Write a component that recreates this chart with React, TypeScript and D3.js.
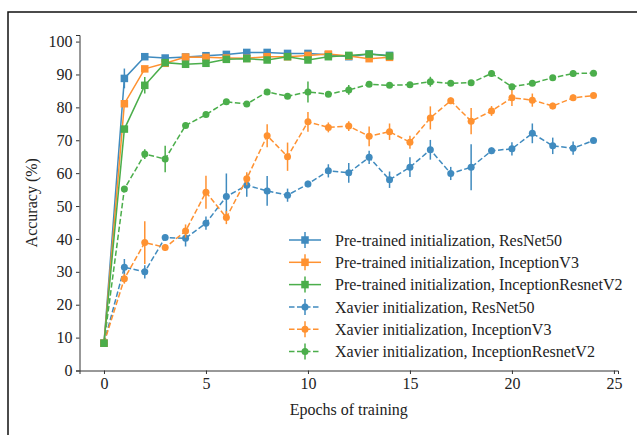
import React, { useRef, useEffect } from "react";
import { select, scaleLinear, axisLeft, axisBottom, line, range } from "d3";

// epochs
const preEpochs = range(0, 15);
const xavEpochs = range(0, 25);

// pre-trained initialization (solid, square markers)
const preResNet = [8.3, 88.8, 95.4, 95.0, 95.3, 95.7, 96.1, 96.7, 96.7, 96.4, 96.4, 96.0, 95.4, 96.2, 95.8];
const preResNetErr = [0.3, 3, 0.6, 0.4, 0.4, 0.4, 0.4, 0.5, 0.5, 0.4, 0.4, 0.4, 0.6, 0.4, 0.4];
const preIncV3 = [8.3, 81.1, 91.7, 93.4, 95.3, 95.2, 95.0, 94.9, 95.4, 95.4, 95.8, 96.2, 95.6, 94.8, 95.2];
const preIncV3Err = [0.3, 0.8, 0.6, 0.5, 0.4, 0.4, 0.4, 0.4, 0.4, 0.4, 0.4, 0.4, 0.4, 0.5, 0.4];
const preIncRes = [8.3, 73.4, 86.7, 93.6, 93.1, 93.4, 94.6, 94.8, 94.4, 95.4, 94.4, 95.4, 95.8, 96.2, 95.6];
const preIncResErr = [0.3, 0.8, 2.5, 0.5, 0.5, 0.5, 0.4, 0.4, 0.6, 0.4, 0.6, 0.4, 0.4, 0.4, 0.4];

// xavier initialization (dashed, circle markers)
const xavResNet = [8.3, 31.4, 30.0, 40.4, 40.2, 44.8, 52.9, 56.3, 54.6, 53.3, 56.7, 60.7, 60.1, 64.8, 58.0, 61.8, 67.1, 59.9, 61.8, 66.8, 67.4, 72.1, 68.3, 67.6, 69.9];
const xavResNetErr = [0.3, 2.5, 2, 0.8, 2.5, 2, 7, 3.5, 4.5, 2, 1, 2, 3, 2, 2.5, 3, 3, 2, 7, 1, 2, 3, 2.5, 2, 0.8];
const xavIncV3 = [8.3, 27.9, 38.9, 37.4, 42.4, 54.2, 46.5, 58.3, 71.4, 65.0, 75.6, 73.9, 74.3, 71.2, 72.6, 69.4, 76.8, 82.0, 75.8, 78.9, 82.9, 82.2, 80.4, 82.9, 83.6];
const xavIncV3Err = [0.3, 1.5, 6.5, 1, 2, 5, 2, 2, 3.5, 4.3, 3, 1.5, 1.5, 3, 2.5, 2, 3.5, 1, 4, 1.5, 2.5, 2, 1, 1, 0.8];
const xavIncRes = [8.3, 55.2, 65.8, 64.3, 74.5, 77.8, 81.7, 81.0, 84.7, 83.4, 84.7, 84.0, 85.3, 87.0, 86.7, 86.9, 87.8, 87.3, 87.5, 90.3, 86.3, 87.3, 89.0, 90.3, 90.4];
const xavIncResErr = [0.3, 0.8, 1.5, 4, 0.6, 0.8, 0.6, 0.6, 0.8, 0.6, 3.2, 0.6, 1.5, 0.6, 0.6, 0.6, 1.5, 0.6, 0.6, 1, 0.6, 0.8, 0.6, 1, 0.6];

const blue = "#1f77b4";
const orange = "#ff7f0e";
const green = "#2ca02c";

const series = [
  { label: "Pre-trained initialization, ResNet50", x: preEpochs, y: preResNet, err: preResNetErr, color: blue, dashed: false },
  { label: "Pre-trained initialization, InceptionV3", x: preEpochs, y: preIncV3, err: preIncV3Err, color: orange, dashed: false },
  { label: "Pre-trained initialization, InceptionResnetV2", x: preEpochs, y: preIncRes, err: preIncResErr, color: green, dashed: false },
  { label: "Xavier initialization, ResNet50", x: xavEpochs, y: xavResNet, err: xavResNetErr, color: blue, dashed: true },
  { label: "Xavier initialization, InceptionV3", x: xavEpochs, y: xavIncV3, err: xavIncV3Err, color: orange, dashed: true },
  { label: "Xavier initialization, InceptionResnetV2", x: xavEpochs, y: xavIncRes, err: xavIncResErr, color: green, dashed: true },
];

const xTicks = [0, 5, 10, 15, 20, 25];
const yTicks = [0, 10, 20, 30, 40, 50, 60, 70, 80, 90, 100];

const W = 637;
const H = 435;
const font = "Liberation Serif, Times New Roman, Times, DejaVu Serif, serif";

function App() {
  const svgRef = useRef<SVGSVGElement>(null);

  useEffect(() => {
    const svg = select(svgRef.current);
    svg.selectAll("*").remove();

    const xScale = scaleLinear().domain([-1.2, 25.2]).range([79.5, 618]);
    const yScale = scaleLinear().domain([0, 102]).range([370.5, 35]);

    // outer frame (cropped figure border)
    svg.append("path")
      .attr("d", `M8,${H} L8,12 L${W},12`)
      .attr("fill", "none")
      .attr("stroke", "#111")
      .attr("stroke-width", 1.5);

    // axes
    const xAxis = axisBottom(xScale).tickValues(xTicks).tickSizeOuter(0).tickSize(3.5).tickPadding(3.5);
    const gx = svg.append("g").attr("transform", `translate(0,${yScale(0)})`).call(xAxis);
    const yAxis = axisLeft(yScale).tickValues(yTicks).tickSizeOuter(0).tickSize(3.5).tickPadding(3.5);
    const gy = svg.append("g").attr("transform", `translate(${xScale(-1.2)},0)`).call(yAxis);
    [gx, gy].forEach((g) => {
      g.attr("font-family", null).attr("font-size", null);
      g.selectAll("text").style("font-family", font).style("font-size", "16px").attr("fill", "#222");
      g.selectAll("line").attr("stroke", "#333");
      g.select(".domain").attr("stroke", "#333").attr("stroke-width", 1);
    });

    // axis labels
    svg.append("text")
      .attr("x", (xScale(-1.2) + xScale(25.2)) / 2)
      .attr("y", 415)
      .attr("text-anchor", "middle")
      .style("font-family", font)
      .style("font-size", "16px")
      .attr("fill", "#222")
      .text("Epochs of training");
    svg.append("text")
      .attr("transform", `translate(37,${yScale(51)}) rotate(-90)`)
      .attr("text-anchor", "middle")
      .style("font-family", font)
      .style("font-size", "16px")
      .attr("fill", "#222")
      .text("Accuracy (%)");

    const plot = svg.append("g").attr("opacity", 0.85);

    const drawMarker = (g: any, cx: number, cy: number, s: any, size: number) => {
      if (s.dashed) {
        g.append("circle").attr("cx", cx).attr("cy", cy).attr("r", size / 2).attr("fill", s.color);
      } else {
        g.append("rect")
          .attr("x", cx - size / 2).attr("y", cy - size / 2)
          .attr("width", size).attr("height", size)
          .attr("fill", s.color);
      }
    };

    // draw xavier first, pre-trained last (on top)
    const order = [3, 4, 5, 0, 1, 2];
    order.forEach((i) => {
      const s = series[i];
      const g = plot.append("g");
      const pts = s.x.map((d, j) => [d, s.y[j], s.err[j]]);
      const path = line<number[]>().x((d) => xScale(d[0])).y((d) => yScale(d[1]));
      g.append("path")
        .attr("d", path(pts))
        .attr("fill", "none")
        .attr("stroke", s.color)
        .attr("stroke-width", 1.5)
        .attr("stroke-dasharray", s.dashed ? "5.5,2.5" : null);
      g.selectAll(".err")
        .data(pts)
        .join("line")
        .attr("x1", (d) => xScale(d[0]))
        .attr("x2", (d) => xScale(d[0]))
        .attr("y1", (d) => yScale(d[1] - d[2]))
        .attr("y2", (d) => yScale(d[1] + d[2]))
        .attr("stroke", s.color)
        .attr("stroke-width", 1.5);
      pts.forEach((d) => drawMarker(g, xScale(d[0]), yScale(d[1]), s, s.dashed ? 7 : 7.5));
    });

    // legend
    const legend = svg.append("g").attr("transform", "translate(289,240)");
    series.forEach((s, i) => {
      const row = legend.append("g").attr("transform", `translate(0,${i * 22.3})`).attr("opacity", 0.85);
      row.append("line")
        .attr("x1", 0).attr("x2", 32)
        .attr("stroke", s.color).attr("stroke-width", 1.5)
        .attr("stroke-dasharray", s.dashed ? "5.5,2.5" : null);
      row.append("line")
        .attr("x1", 16).attr("x2", 16).attr("y1", -8).attr("y2", 8)
        .attr("stroke", s.color).attr("stroke-width", 1.5);
      drawMarker(row, 16, 0, s, s.dashed ? 7 : 7.5);
      legend.append("text")
        .attr("x", 46)
        .attr("y", i * 22.3)
        .attr("dy", "0.35em")
        .style("font-family", font)
        .style("font-size", "16px")
        .attr("fill", "#222")
        .text(s.label);
    });
  }, []);

  return (
    <svg
      ref={svgRef}
      width={W}
      height={H}
      style={{ position: "absolute", left: 0, top: 0, background: "#fff" }}
    />
  );
}

export default App;
